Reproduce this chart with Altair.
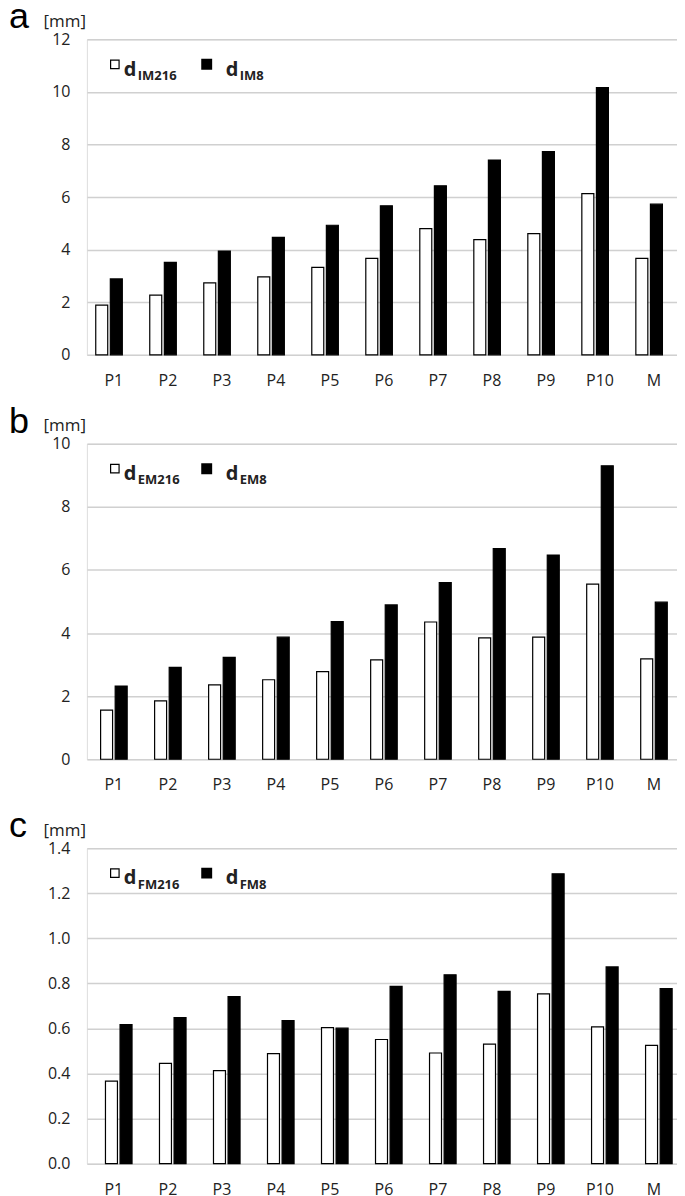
import altair as alt
import pandas as pd

cats = ["P1", "P2", "P3", "P4", "P5", "P6", "P7", "P8", "P9", "P10", "M"]

# panel a: d_IM216 / d_IM8
a_216 = [1.89, 2.27, 2.74, 2.97, 3.33, 3.67, 4.80, 4.38, 4.61, 6.13, 3.67]
a_8 = [2.89, 3.52, 3.95, 4.47, 4.93, 5.67, 6.43, 7.41, 7.73, 10.16, 5.73]
# panel b: d_EM216 / d_EM8
b_216 = [1.56, 1.85, 2.36, 2.52, 2.78, 3.15, 4.35, 3.85, 3.87, 5.55, 3.18]
b_8 = [2.32, 2.91, 3.23, 3.87, 4.36, 4.89, 5.60, 6.68, 6.47, 9.30, 4.98]
# panel c: d_FM216 / d_FM8
c_216 = [0.366, 0.445, 0.413, 0.488, 0.604, 0.551, 0.491, 0.530, 0.753, 0.607, 0.525]
c_8 = [0.617, 0.648, 0.741, 0.635, 0.601, 0.787, 0.838, 0.764, 1.286, 0.873, 0.777]

a_ticks = [0, 2, 4, 6, 8, 10, 12]
b_ticks = [0, 2, 4, 6, 8, 10]
c_ticks = [0.0, 0.2, 0.4, 0.6, 0.8, 1.0, 1.2, 1.4]

FONT = "Open Sans"
TXT = "#222222"
W, H = 595, 316
one = pd.DataFrame({"k": [0]})


def panel(letter, sub1, sub2, v1, v2, ticks, fmt):
    s1, s2 = "d" + sub1, "d" + sub2
    df = pd.DataFrame({
        "cat": cats + cats,
        "series": [s1] * len(cats) + [s2] * len(cats),
        "value": v1 + v2,
    })
    bars = alt.Chart(df).mark_bar(stroke="black", strokeWidth=1.2, width=12).encode(
        x=alt.X("cat:N", sort=cats,
                scale=alt.Scale(paddingInner=0.478, paddingOuter=0.239),
                axis=alt.Axis(title=None, labelAngle=0, ticks=False, tickSize=0,
                              domain=False, labelFont=FONT, labelFontSize=16,
                              labelColor=TXT, labelPadding=17.5)),
        xOffset=alt.XOffset("series:N", sort=[s1, s2],
                            scale=alt.Scale(paddingInner=0.2, paddingOuter=0)),
        y=alt.Y("value:Q",
                scale=alt.Scale(domain=[ticks[0], ticks[-1]], nice=False),
                axis=alt.Axis(values=ticks, format=fmt, grid=True,
                              gridColor="#d0d0d0", gridWidth=1.5,
                              domain=False, ticks=False, tickSize=0,
                              labelFont=FONT, labelFontSize=16, labelColor=TXT,
                              labelPadding=17,
                              title="[mm]", titleAngle=0, titleAlign="left",
                              titleBaseline="alphabetic", titleX=-44, titleY=-13,
                              titleFont=FONT, titleFontSize=17,
                              titleFontWeight="normal", titleColor=TXT)),
        color=alt.Color("series:N", scale=alt.Scale(domain=[s1, s2],
                                                    range=["white", "black"]),
                        legend=None),
    )
    lab = alt.Chart(one).mark_text(text=letter, align="left", baseline="alphabetic",
                                   font="Liberation Sans", fontSize=36,
                                   color="black").encode(
        x=alt.value(-78), y=alt.value(-11))
    sq1 = alt.Chart(one).mark_square(size=72, filled=True, fill="white",
                                     stroke="black", strokeWidth=1.2,
                                     opacity=1).encode(
        x=alt.value(28), y=alt.value(25))
    sq2 = alt.Chart(one).mark_square(size=80, filled=True, fill="black",
                                     stroke="black", opacity=1).encode(
        x=alt.value(120), y=alt.value(25))
    d1 = alt.Chart(one).mark_text(text="d", align="left", baseline="alphabetic",
                                  font=FONT, fontSize=20, fontWeight="bold",
                                  color=TXT).encode(
        x=alt.value(37), y=alt.value(36.3))
    t1 = alt.Chart(one).mark_text(text=sub1, align="left", baseline="alphabetic",
                                  font=FONT, fontSize=13, fontWeight="bold",
                                  color=TXT).encode(
        x=alt.value(51), y=alt.value(40.6))
    d2 = alt.Chart(one).mark_text(text="d", align="left", baseline="alphabetic",
                                  font=FONT, fontSize=20, fontWeight="bold",
                                  color=TXT).encode(
        x=alt.value(139), y=alt.value(36.3))
    t2 = alt.Chart(one).mark_text(text=sub2, align="left", baseline="alphabetic",
                                  font=FONT, fontSize=13, fontWeight="bold",
                                  color=TXT).encode(
        x=alt.value(153), y=alt.value(40.6))
    return alt.layer(bars, lab, sq1, sq2, d1, t1, d2, t2).properties(width=W, height=H)


pa = panel("a", "IM216", "IM8", a_216, a_8, a_ticks, "d")
pb = panel("b", "EM216", "EM8", b_216, b_8, b_ticks, "d")
pc = panel("c", "FM216", "FM8", c_216, c_8, c_ticks, ".1f")

chart = alt.vconcat(pa, pb, pc, spacing=89, bounds="flush").properties(
    padding={"left": 0, "top": -10.5, "right": -5, "bottom": 0}
).configure_view(stroke=None).configure(background="white")

chart.save("out.html", embed_options={"renderer": "svg", "actions": False})
